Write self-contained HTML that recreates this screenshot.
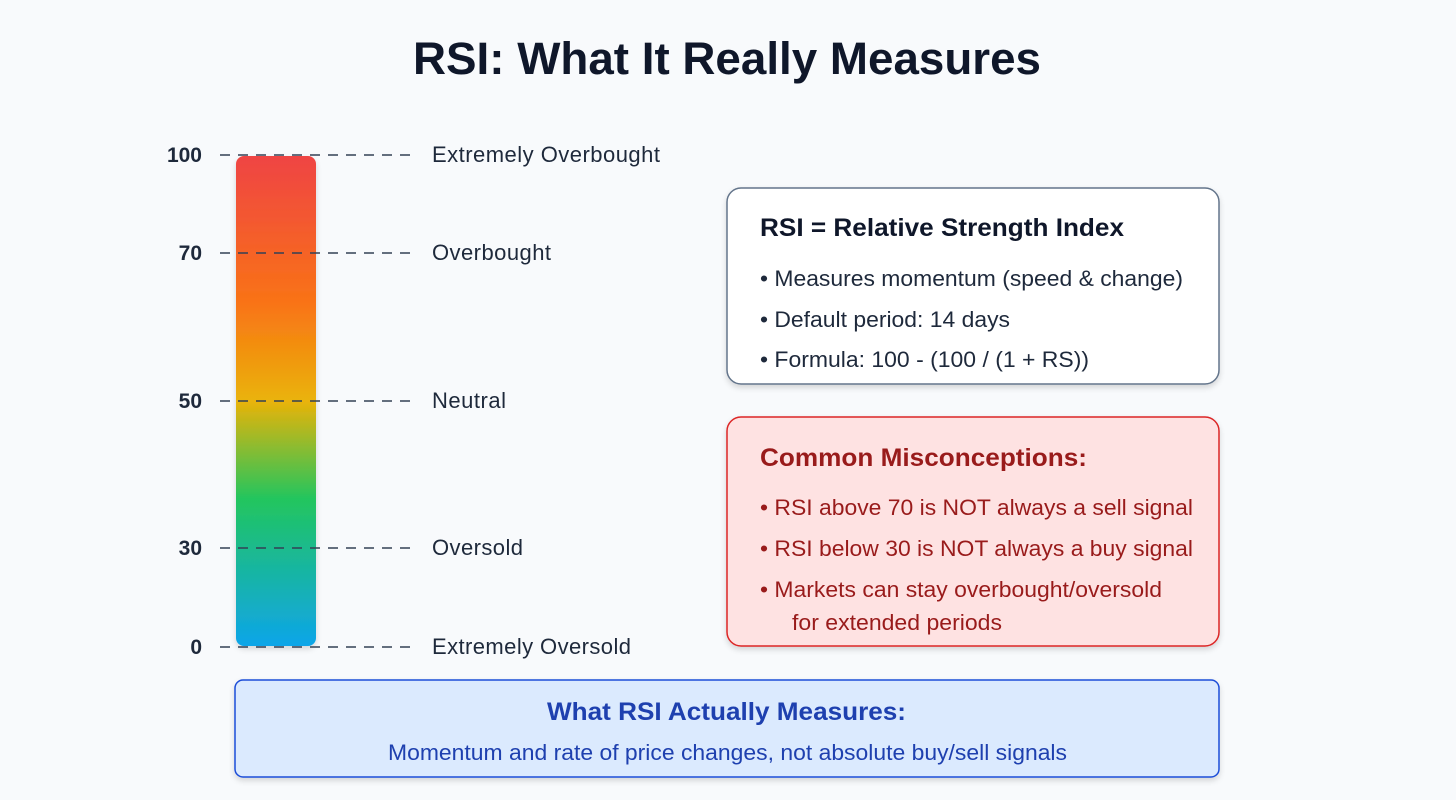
<!DOCTYPE html>
<html><head><style>body{margin:0;background:#f8fafc}svg{display:block}text{font-family:"Liberation Sans",Arial,sans-serif}</style></head>
<body>
<svg width="1456" height="800" viewBox="0 0 1456 800">
<defs>
<linearGradient id="g" x1="0" y1="0" x2="0" y2="1">
<stop offset="0" stop-color="#ef4444"/>
<stop offset="0.3" stop-color="#f97316"/>
<stop offset="0.5" stop-color="#eab308"/>
<stop offset="0.7" stop-color="#22c55e"/>
<stop offset="1" stop-color="#0ea5e9"/>
</linearGradient>
<filter id="s" x="-10%" y="-10%" width="120%" height="130%"><feDropShadow dx="0" dy="3" stdDeviation="3" flood-opacity="0.15"/></filter>
</defs>
<rect width="1456" height="800" fill="#f8fafc"/>
<text x="413" y="74" font-size="45" font-weight="bold" fill="#0f172a" textLength="628" lengthAdjust="spacingAndGlyphs">RSI: What It Really Measures</text>
<rect x="236" y="156" width="80" height="490" rx="8" fill="url(#g)" filter="url(#s)"/>
<g stroke="#334155" stroke-width="1.5" stroke-dasharray="10,8">
<line x1="220" y1="155" x2="410" y2="155"/>
<line x1="220" y1="253" x2="410" y2="253"/>
<line x1="220" y1="401" x2="410" y2="401"/>
<line x1="220" y1="548" x2="410" y2="548"/>
<line x1="220" y1="647" x2="410" y2="647"/>
</g>
<g font-size="21" font-weight="bold" fill="#1e293b" text-anchor="end">
<text x="202" y="162">100</text><text x="202" y="260">70</text><text x="202" y="408">50</text><text x="202" y="555">30</text><text x="202" y="654">0</text>
</g>
<g font-size="22" fill="#1e293b" lengthAdjust="spacingAndGlyphs">
<text x="432" y="162" textLength="228">Extremely Overbought</text><text x="432" y="260" textLength="119">Overbought</text><text x="432" y="408" textLength="74">Neutral</text><text x="432" y="555" textLength="91">Oversold</text><text x="432" y="654" textLength="199">Extremely Oversold</text>
</g>
<rect x="727" y="188" width="492" height="196" rx="14" fill="#fff" stroke="#64748b" stroke-width="1.5" filter="url(#s)"/>
<text x="760" y="236" font-size="25" font-weight="bold" fill="#0f172a" textLength="364" lengthAdjust="spacingAndGlyphs">RSI = Relative Strength Index</text>
<g font-size="22" fill="#1e293b">
<text x="760" y="286" textLength="423" lengthAdjust="spacingAndGlyphs">• Measures momentum (speed &amp; change)</text>
<text x="760" y="327" textLength="250" lengthAdjust="spacingAndGlyphs">• Default period: 14 days</text>
<text x="760" y="367" textLength="329" lengthAdjust="spacingAndGlyphs">• Formula: 100 - (100 / (1 + RS))</text>
</g>
<rect x="727" y="417" width="492" height="229" rx="14" fill="#fee2e2" stroke="#dc2626" stroke-width="1.5" filter="url(#s)"/>
<text x="760" y="466" font-size="25" font-weight="bold" fill="#991b1b" textLength="327" lengthAdjust="spacingAndGlyphs">Common Misconceptions:</text>
<g font-size="22" fill="#991b1b">
<text x="760" y="515" textLength="433" lengthAdjust="spacingAndGlyphs">• RSI above 70 is NOT always a sell signal</text>
<text x="760" y="556" textLength="433" lengthAdjust="spacingAndGlyphs">• RSI below 30 is NOT always a buy signal</text>
<text x="760" y="597" textLength="402" lengthAdjust="spacingAndGlyphs">• Markets can stay overbought/oversold</text>
<text x="792" y="630" textLength="210" lengthAdjust="spacingAndGlyphs">for extended periods</text>
</g>
<rect x="235" y="680" width="984" height="97" rx="8" fill="#dbeafe" stroke="#1d4ed8" stroke-width="1.5" filter="url(#s)"/>
<text x="547" y="720" font-size="25" font-weight="bold" fill="#1e40af" textLength="359" lengthAdjust="spacingAndGlyphs">What RSI Actually Measures:</text>
<text x="388" y="760" font-size="22" fill="#1e40af" textLength="679" lengthAdjust="spacingAndGlyphs">Momentum and rate of price changes, not absolute buy/sell signals</text>
</svg>
</body></html>
